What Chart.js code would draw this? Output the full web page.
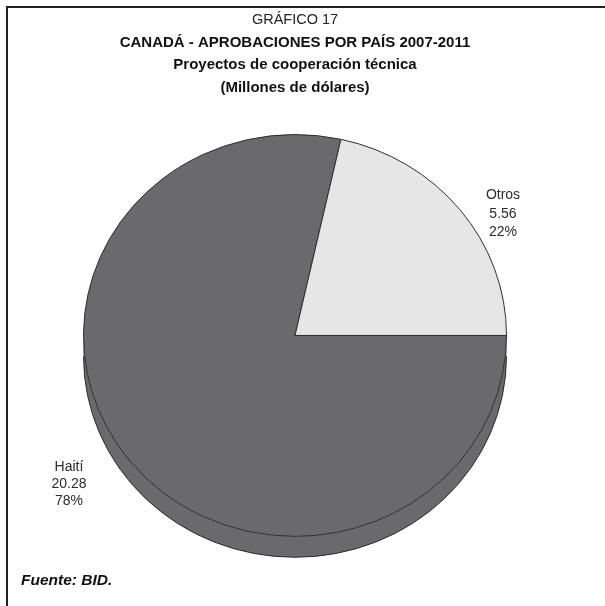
<!DOCTYPE html>
<html>
<head>
<meta charset="utf-8">
<script src="https://cdn.jsdelivr.net/npm/chart.js@4"></script>
<style>
    body { margin: 0; background: #fff; }
    #wrap { position: relative; width: 605px; height: 606px; }
    #frame {
        position: absolute; left: 6px; top: 6px; right: -4px; bottom: -4px;
        border-left: 2px solid #222; border-top: 2px solid #222;
    }
    #fuente {
        position: absolute; left: 21px; top: 571px;
        font: italic bold 15.5px "Liberation Sans", Arial, sans-serif; color: #111;
    }
</style>
</head>
<body>
<div id="wrap">
    <canvas id="pieChart" width="605" height="606"></canvas>
    <div id="frame"></div>
    <div id="fuente">Fuente: BID.</div>
</div>
<script>
// Datos
const paises = ['Haití', 'Otros'];
const montos = [20.28, 5.56];
const porcentajes = ['78%', '22%'];
const colores = ['#6a6a6c', '#e6e6e6'];

const FONT = '"Liberation Sans", Arial, sans-serif';
const squash = 0.95;   // aplastamiento vertical (efecto 3D)
const depth = 22;      // grosor del canto

// Efecto 3D: canto + elipse
const pie3d = {
    id: 'pie3d',
    beforeDatasetsDraw(chart) {
        const ctx = chart.ctx;
        const arc = chart.getDatasetMeta(0).data[0];
        const { x, y, outerRadius: r } = arc.getProps(['x', 'y', 'outerRadius'], true);
        ctx.save();
        ctx.translate(x, y);
        ctx.scale(1, squash);
        ctx.translate(-x, -y);
        // canto inferior
        ctx.beginPath();
        ctx.moveTo(x + r, y);
        ctx.arc(x, y + depth, r, 0, Math.PI);
        ctx.lineTo(x - r, y);
        ctx.arc(x, y, r, Math.PI, 0, true);
        ctx.closePath();
        ctx.fillStyle = colores[0];
        ctx.fill();
        ctx.lineWidth = 1;
        ctx.strokeStyle = '#2a2a2a';
        ctx.beginPath();
        ctx.arc(x, y + depth, r, 0, Math.PI);
        ctx.stroke();
    },
    afterDatasetsDraw(chart) {
        chart.ctx.restore();
    }
};

// Etiquetas fuera de la torta
const labelOffsets = [[-61, 23], [43, 4]];
const labelSpacing = [17, 18.5];
const etiquetas = {
    id: 'etiquetas',
    afterDatasetsDraw(chart) {
        const ctx = chart.ctx;
        const meta = chart.getDatasetMeta(0);
        ctx.save();
        ctx.font = '14px ' + FONT;
        ctx.fillStyle = '#2b2b2b';
        ctx.textAlign = 'center';
        ctx.textBaseline = 'middle';
        meta.data.forEach((arc, i) => {
            const p = arc.getProps(['x', 'y', 'startAngle', 'endAngle', 'outerRadius'], true);
            const mid = (p.startAngle + p.endAngle) / 2;
            const ox = p.x + Math.cos(mid) * p.outerRadius + labelOffsets[i][0];
            const oy = p.y + Math.sin(mid) * p.outerRadius * squash + labelOffsets[i][1];
            const lines = [paises[i], montos[i].toFixed(2), porcentajes[i]];
            lines.forEach((t, k) => ctx.fillText(t, ox, oy + (k - 1) * labelSpacing[i]));
        });
        ctx.restore();
    }
};

new Chart(document.getElementById('pieChart'), {
    type: 'pie',
    data: {
        labels: paises,
        datasets: [{
            data: montos,
            backgroundColor: colores,
            borderColor: '#2a2a2a',
            borderWidth: 1
        }]
    },
    options: {
        responsive: false,
        animation: false,
        rotation: 90,
        layout: { padding: { left: 83, right: 98, bottom: 58 } },
        plugins: {
            legend: { display: false },
            tooltip: { enabled: false },
            title: {
                display: true,
                text: 'GRÁFICO 17',
                color: '#222',
                font: { family: FONT, size: 14.5, weight: 'normal' },
                padding: { top: 11, bottom: 3 }
            },
            subtitle: {
                display: true,
                text: ['CANADÁ - APROBACIONES POR PAÍS 2007-2011', 'Proyectos de cooperación técnica', '(Millones de dólares)'],
                color: '#111',
                font: { family: FONT, size: 15, weight: 'bold', lineHeight: 1.5 },
                padding: { top: 0, bottom: 24 }
            }
        }
    },
    plugins: [pie3d, etiquetas]
});
</script>
</body>
</html>
